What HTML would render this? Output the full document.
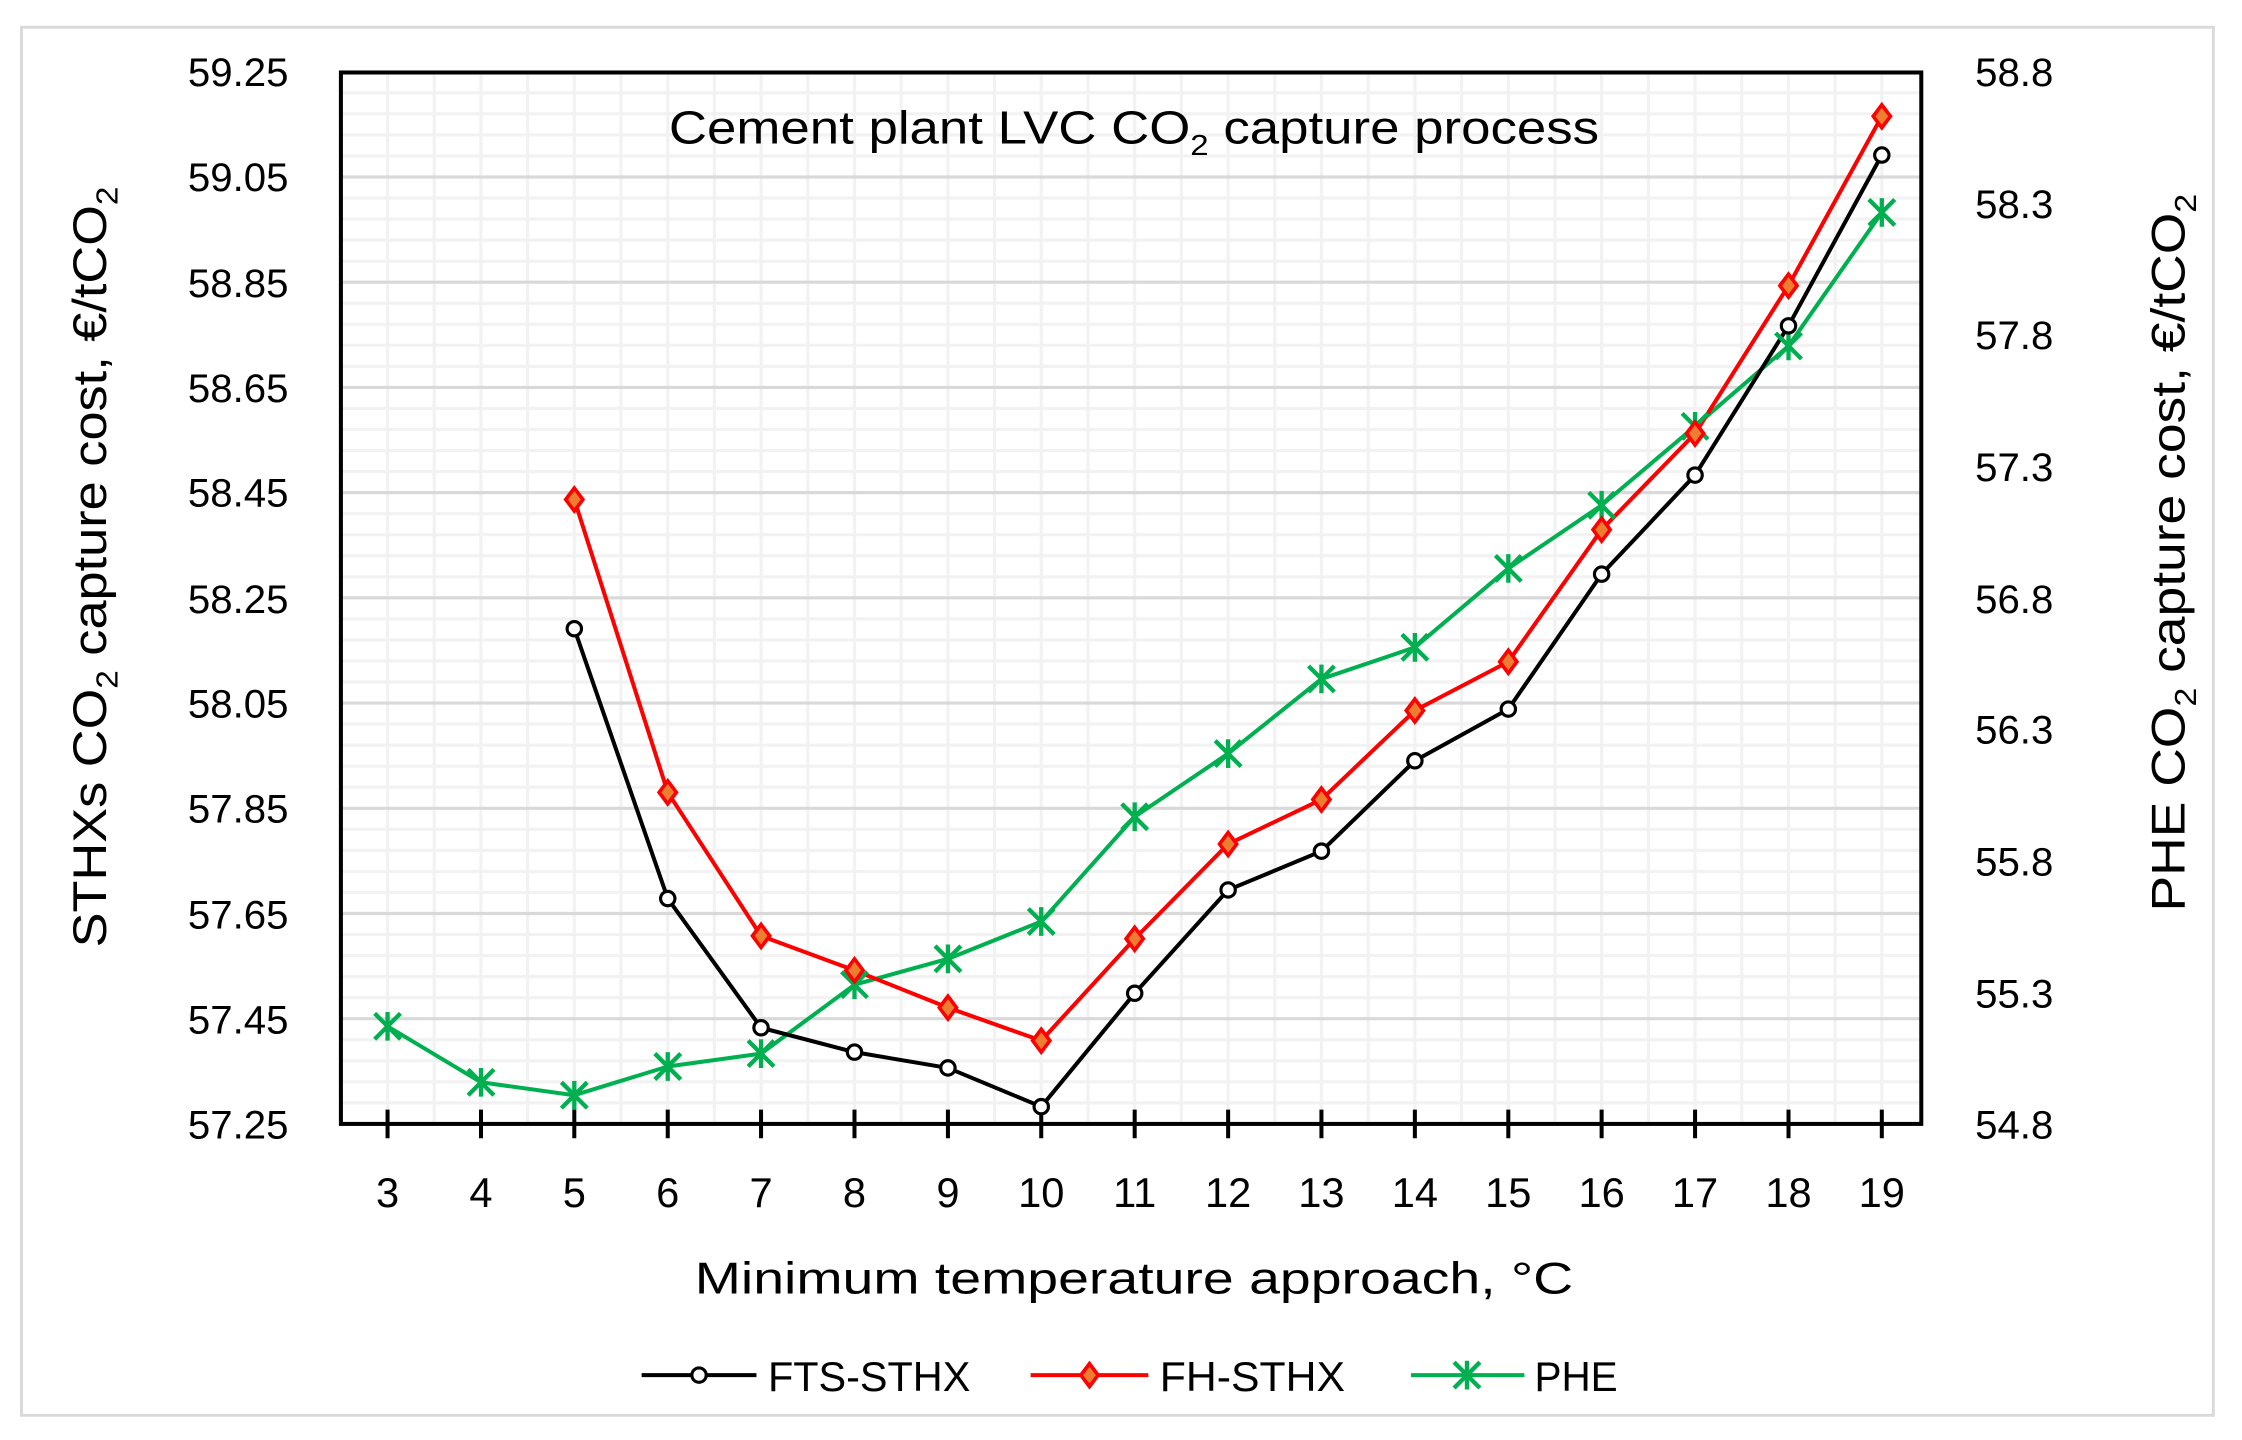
<!DOCTYPE html>
<html><head><meta charset="utf-8"><style>html,body{margin:0;padding:0;background:#fff}svg{display:block}</style></head>
<body>
<svg xmlns="http://www.w3.org/2000/svg" width="2242" height="1440" viewBox="0 0 2242 1440">
<g transform="scale(1.4354)" font-family="'Liberation Sans', sans-serif">
<rect x="15" y="19" width="1527" height="967" fill="#fff" stroke="#d9d9d9" stroke-width="2"/>
<g stroke="#f2f2f2" stroke-width="2.2">
<path d="M270,50V783M302.5,50V783M335,50V783M367.6,50V783M400.1,50V783M432.6,50V783M465.2,50V783M497.7,50V783M530.2,50V783M562.8,50V783M595.3,50V783M627.8,50V783M660.4,50V783M692.9,50V783M725.4,50V783M758,50V783M790.5,50V783M823,50V783M855.6,50V783M888.1,50V783M920.6,50V783M953.2,50V783M985.7,50V783M1018.2,50V783M1050.8,50V783M1083.3,50V783M1115.8,50V783M1148.4,50V783M1180.9,50V783M1213.4,50V783M1246,50V783M1278.5,50V783M1311,50V783"/>
</g>
<g id="h"></g>
<script>
(function(){var ns="http://www.w3.org/2000/svg",g=document.getElementById('h');
for(var i=1;i<50;i++){var y=50+i*14.66;var l=document.createElementNS(ns,'line');l.setAttribute('x1',238);l.setAttribute('x2',1338);l.setAttribute('y1',y);l.setAttribute('y2',y);l.setAttribute('stroke',i%5==0?'#d9d9d9':'#f2f2f2');l.setAttribute('stroke-width',2.2);g.appendChild(l);}})();
</script>
<rect x="237.5" y="50.5" width="1101" height="732.5" fill="none" stroke="#000" stroke-width="2.8"/>
<g stroke="#000" stroke-width="2.8">
<path d="M270,773V793M335.1,773V793M400.1,773V793M465.2,773V793M530.2,773V793M595.3,773V793M660.4,773V793M725.4,773V793M790.5,773V793M855.6,773V793M920.6,773V793M985.7,773V793M1050.8,773V793M1115.8,773V793M1180.9,773V793M1246,773V793M1311,773V793"/>
</g>
<g font-size="28" text-anchor="end" fill="#000">
<text x="201" y="60">59.25</text><text x="201" y="133">59.05</text><text x="201" y="207">58.85</text><text x="201" y="280">58.65</text><text x="201" y="353">58.45</text><text x="201" y="427">58.25</text><text x="201" y="500">58.05</text><text x="201" y="573">57.85</text><text x="201" y="647">57.65</text><text x="201" y="720">57.45</text><text x="201" y="793">57.25</text>
</g>
<g font-size="28" fill="#000">
<text x="1376" y="60">58.8</text><text x="1376" y="152">58.3</text><text x="1376" y="243">57.8</text><text x="1376" y="335">57.3</text><text x="1376" y="427">56.8</text><text x="1376" y="518">56.3</text><text x="1376" y="610">55.8</text><text x="1376" y="702">55.3</text><text x="1376" y="793">54.8</text>
</g>
<g font-size="29" text-anchor="middle" fill="#000">
<text x="270" y="841">3</text><text x="335.1" y="841">4</text><text x="400.1" y="841">5</text><text x="465.2" y="841">6</text><text x="530.2" y="841">7</text><text x="595.3" y="841">8</text><text x="660.4" y="841">9</text><text x="725.4" y="841">10</text><text x="790.5" y="841">11</text><text x="855.6" y="841">12</text><text x="920.6" y="841">13</text><text x="985.7" y="841">14</text><text x="1050.8" y="841">15</text><text x="1115.8" y="841">16</text><text x="1180.9" y="841">17</text><text x="1246" y="841">18</text><text x="1311" y="841">19</text>
</g>
<text x="790" y="901" font-size="31" text-anchor="middle" textLength="612" lengthAdjust="spacingAndGlyphs">Minimum temperature approach, °C</text>
<text x="466" y="100" font-size="32" textLength="648" lengthAdjust="spacingAndGlyphs">Cement plant LVC CO<tspan font-size="20" dy="8">2</tspan><tspan dy="-8"> capture process</tspan></text>
<text transform="translate(74,660) rotate(-90)" font-size="33" textLength="530" lengthAdjust="spacingAndGlyphs">STHXs CO<tspan font-size="21" dy="8">2</tspan><tspan dy="-8"> capture cost, €/tCO</tspan><tspan font-size="21" dy="8">2</tspan></text>
<text transform="translate(1522,635) rotate(-90)" font-size="33" textLength="500" lengthAdjust="spacingAndGlyphs">PHE CO<tspan font-size="21" dy="8">2</tspan><tspan dy="-8"> capture cost, €/tCO</tspan><tspan font-size="21" dy="8">2</tspan></text>
<g fill="none" stroke-width="2.8" stroke-linejoin="round">
<polyline stroke="#00b050" points="270,715 335.1,754 400.1,763 465.2,743 530.2,734 595.3,686 660.4,668 725.4,642 790.5,569 855.6,525 920.6,473 985.7,451 1050.8,396 1115.8,352 1180.9,297 1246,241 1311,148"/>
<polyline stroke="#ff0000" points="400.1,348 465.2,552 530.2,652 595.3,676 660.4,702 725.4,725 790.5,654 855.6,588 920.6,557 985.7,495 1050.8,461 1115.8,369 1180.9,302 1246,199 1311,81"/>
<polyline stroke="#000" points="400.1,438 465.2,626 530.2,716 595.3,733 660.4,744 725.4,771 790.5,692 855.6,620 920.6,593 985.7,530 1050.8,494 1115.8,400 1180.9,331 1246,227 1311,108"/>
</g>
<defs>
<g id="ast"><path d="M-9,-9L9,9M-9,9L9,-9M0,-10V10" stroke="#00b050" stroke-width="3" fill="none"/></g>
<g id="dia"><path d="M0,-8L6,0L0,8L-6,0Z" fill="#ed7d31" stroke="#ff0000" stroke-width="2.5"/></g>
<g id="cir"><circle r="5" fill="#fff" stroke="#000" stroke-width="2.2"/></g>
</defs>
<g>
<use href="#ast" x="270" y="715"/><use href="#ast" x="335.1" y="754"/><use href="#ast" x="400.1" y="763"/><use href="#ast" x="465.2" y="743"/><use href="#ast" x="530.2" y="734"/><use href="#ast" x="595.3" y="686"/><use href="#ast" x="660.4" y="668"/><use href="#ast" x="725.4" y="642"/><use href="#ast" x="790.5" y="569"/><use href="#ast" x="855.6" y="525"/><use href="#ast" x="920.6" y="473"/><use href="#ast" x="985.7" y="451"/><use href="#ast" x="1050.8" y="396"/><use href="#ast" x="1115.8" y="352"/><use href="#ast" x="1180.9" y="297"/><use href="#ast" x="1246" y="241"/><use href="#ast" x="1311" y="148"/>
<use href="#dia" x="400.1" y="348"/><use href="#dia" x="465.2" y="552"/><use href="#dia" x="530.2" y="652"/><use href="#dia" x="595.3" y="676"/><use href="#dia" x="660.4" y="702"/><use href="#dia" x="725.4" y="725"/><use href="#dia" x="790.5" y="654"/><use href="#dia" x="855.6" y="588"/><use href="#dia" x="920.6" y="557"/><use href="#dia" x="985.7" y="495"/><use href="#dia" x="1050.8" y="461"/><use href="#dia" x="1115.8" y="369"/><use href="#dia" x="1180.9" y="302"/><use href="#dia" x="1246" y="199"/><use href="#dia" x="1311" y="81"/>
<use href="#cir" x="400.1" y="438"/><use href="#cir" x="465.2" y="626"/><use href="#cir" x="530.2" y="716"/><use href="#cir" x="595.3" y="733"/><use href="#cir" x="660.4" y="744"/><use href="#cir" x="725.4" y="771"/><use href="#cir" x="790.5" y="692"/><use href="#cir" x="855.6" y="620"/><use href="#cir" x="920.6" y="593"/><use href="#cir" x="985.7" y="530"/><use href="#cir" x="1050.8" y="494"/><use href="#cir" x="1115.8" y="400"/><use href="#cir" x="1180.9" y="331"/><use href="#cir" x="1246" y="227"/><use href="#cir" x="1311" y="108"/>
</g>
<g stroke-width="2.8">
<line x1="447" y1="958" x2="527" y2="958" stroke="#000"/><use href="#cir" x="487" y="958"/>
<line x1="718" y1="958" x2="800" y2="958" stroke="#ff0000"/><use href="#dia" x="759" y="958"/>
<line x1="983" y1="958" x2="1062" y2="958" stroke="#00b050"/><use href="#ast" x="1022" y="958"/>
</g>
<g font-size="29" fill="#000">
<text x="535" y="969" textLength="141" lengthAdjust="spacingAndGlyphs">FTS-STHX</text><text x="808" y="969" textLength="129" lengthAdjust="spacingAndGlyphs">FH-STHX</text><text x="1069" y="969" textLength="58" lengthAdjust="spacingAndGlyphs">PHE</text>
</g>
</g>
</svg>
</body></html>
